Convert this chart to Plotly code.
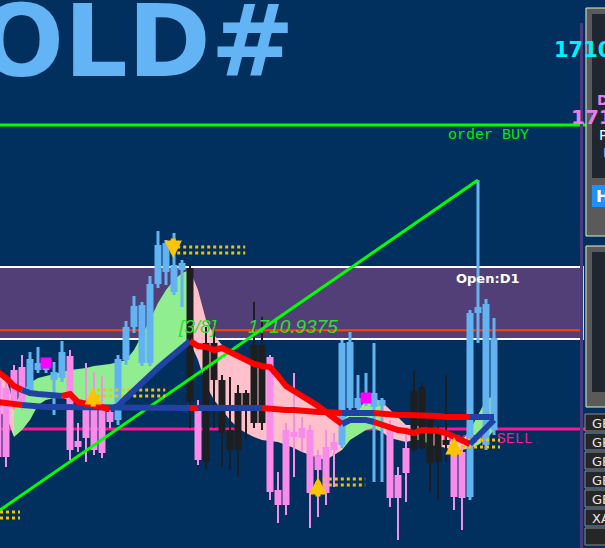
import plotly.graph_objects as go

W, H = 605, 548

# one bar per period, bar -1 is the partly visible one on the left edge
bars = list(range(-1, 62))

# candle colour class: b = blue (up), p = pink (down), k = black
kind = list("pppp" "bbbbb" "pppppp" "bbbbbbbbb" "k" "p" "kkkkkkkk"
            "ppppppppp" "bbbbbb" "ppp" "kkkkk" "pp" "bbbb")

opens = [1708.45, 1708.05, 1708.95, 1709.10, 1707.95, 1708.95, 1708.95, 1708.45, 1708.55, 1709.65,
         1705.40, 1707.30, 1707.30, 1707.10, 1706.85, 1706.45, 1709.45, 1711.10, 1709.30, 1709.30,
         1713.25, 1713.85, 1712.85, 1713.95, 1714.05, 1706.95, 1710.30, 1710.30, 1708.45, 1705.95,
         1707.80, 1707.80, 1710.20, 1710.20, 1709.60, 1702.95, 1705.95, 1705.85, 1706.05, 1705.95,
         1704.70, 1705.10, 1705.35, 1705.20, 1707.05, 1707.05, 1707.30, 1707.10, 1707.15, 1706.20,
         1703.70, 1705.05, 1707.90, 1708.10, 1706.45, 1705.95, 1705.45, 1704.85, 1704.85, 1702.60,
         1711.80, 1705.20, 1705.95]
closes = [1704.60, 1704.60, 1707.30, 1707.30, 1709.50, 1709.30, 1709.20, 1708.85, 1709.85, 1704.95,
          1705.10, 1705.55, 1704.95, 1704.80, 1706.35, 1709.50, 1711.10, 1712.15, 1712.20, 1713.25,
          1715.20, 1715.30, 1714.20, 1714.30, 1707.35, 1704.45, 1704.35, 1708.45, 1705.80, 1704.95,
          1704.95, 1707.05, 1706.30, 1706.30, 1702.85, 1702.20, 1702.20, 1705.60, 1705.55, 1702.80,
          1703.95, 1702.80, 1704.95, 1710.30, 1710.35, 1707.55, 1707.55, 1707.80, 1707.45, 1702.55,
          1702.55, 1703.80, 1704.95, 1705.05, 1704.30, 1704.35, 1705.20, 1702.60, 1702.55, 1711.80,
          1712.10, 1712.25, 1710.55]
highs = [1708.70, 1708.45, 1709.20, 1709.70, 1709.85, 1710.10, 1709.45, 1709.35, 1710.40, 1709.95,
         1706.30, 1709.30, 1708.85, 1708.65, 1707.20, 1709.70, 1711.40, 1712.65, 1712.35, 1713.65,
         1715.90, 1715.45, 1715.80, 1714.45, 1714.15, 1707.45, 1711.10, 1711.20, 1708.70, 1708.60,
         1708.20, 1707.95, 1712.35, 1711.60, 1709.70, 1703.85, 1706.30, 1708.80, 1706.60, 1706.20,
         1704.95, 1705.95, 1705.80, 1710.45, 1710.85, 1708.70, 1708.80, 1710.30, 1707.55, 1706.45,
         1704.10, 1705.80, 1708.95, 1708.30, 1706.70, 1706.20, 1708.70, 1705.45, 1705.20, 1711.95,
         1718.45, 1712.50, 1711.55]
lows = [1704.20, 1704.10, 1706.95, 1706.95, 1707.70, 1708.80, 1708.80, 1706.70, 1708.35, 1704.45,
        1704.85, 1704.35, 1704.70, 1704.55, 1706.05, 1706.20, 1709.20, 1710.80, 1709.15, 1709.15,
        1713.05, 1713.20, 1712.70, 1712.10, 1706.05, 1704.20, 1703.95, 1706.05, 1704.10, 1703.95,
        1703.60, 1705.45, 1706.05, 1705.95, 1702.45, 1701.30, 1701.70, 1703.60, 1704.85, 1701.05,
        1701.60, 1702.20, 1703.10, 1705.05, 1706.85, 1706.95, 1707.15, 1703.35, 1703.35, 1702.10,
        1700.45, 1702.35, 1704.85, 1704.95, 1702.85, 1702.45, 1704.35, 1701.95, 1700.95, 1702.45,
        1710.30, 1704.95, 1705.70]

# fast and slow trend lines, colour per bar (r = falling, b = rising)
fast_ma = [1708.85, 1708.55, 1708.15, 1707.95, 1707.80, 1707.75, 1707.70, 1707.65, 1707.65, 1707.75,
           1707.35, 1707.25, 1707.20, 1707.10, 1707.00, 1707.15, 1707.55, 1707.95, 1708.30, 1708.70,
           1709.05, 1709.40, 1709.75, 1710.10, 1710.40, 1710.15, 1710.10, 1709.95, 1710.05, 1709.85,
           1709.65, 1709.45, 1709.25, 1709.15, 1709.10, 1708.65, 1708.15, 1707.90, 1707.65, 1707.45,
           1707.15, 1706.85, 1706.55, 1706.25, 1706.45, 1706.45, 1706.45, 1706.35, 1706.20, 1706.05,
           1705.95, 1705.90, 1705.80, 1705.95, 1705.95, 1705.90, 1705.80, 1705.60, 1705.40, 1705.25,
           1705.65, 1706.05, 1706.45]
fast_col = list("rrrr" "bbbbb" "rrrrrr" "bbbbbbbbbb" "rrrrrrrrrrrrrrrrrrr" "bbbb" "rrrrrrrrrrrr" "bbb")
slow_ma = [1707.35, 1707.30, 1707.25, 1707.20, 1707.15, 1707.10, 1707.10, 1707.10, 1707.10, 1707.10,
           1707.10, 1707.10, 1707.10, 1707.10, 1707.10, 1707.10, 1707.05, 1707.05, 1707.05, 1707.05,
           1707.05, 1707.05, 1707.05, 1707.05, 1707.05, 1707.05, 1707.05, 1707.05, 1707.05, 1707.05,
           1707.05, 1707.05, 1707.05, 1707.05, 1707.00, 1707.00, 1706.95, 1706.95, 1706.90, 1706.90,
           1706.85, 1706.85, 1706.80, 1706.80, 1706.80, 1706.80, 1706.80, 1706.80, 1706.75, 1706.75,
           1706.70, 1706.70, 1706.70, 1706.65, 1706.65, 1706.65, 1706.60, 1706.60, 1706.60, 1706.60,
           1706.60, 1706.60, 1706.60]
slow_col = list("rrrr" + "b" * 21 + "r" + "b" * 8 + "r" * 10 + "bbbb" + "r" * 12 + "bbb")

# cloud band, g = green, p = pink
cloud_top = [1708.85, 1708.55, 1707.20, 1707.85, 1708.30, 1708.55, 1708.65, 1708.75, 1708.85, 1708.95,
             1709.00, 1709.05, 1709.15, 1709.20, 1709.25, 1709.35, 1709.45, 1709.95, 1710.70, 1711.45,
             1712.30, 1712.95, 1713.45, 1713.80, 1713.95, 1712.95, 1711.45, 1710.70, 1710.20, 1709.95,
             1709.70, 1709.45, 1709.25, 1709.15, 1709.10, 1708.65, 1708.15, 1707.90, 1707.65, 1707.45,
             1707.15, 1706.95, 1706.75, 1706.55, 1706.70, 1706.95, 1707.45, 1707.55, 1707.35, 1706.95,
             1706.55, 1706.20, 1706.20, 1706.10, 1706.05, 1705.95, 1705.85, 1705.65, 1705.45, 1705.95,
             1706.70, 1707.45, 1707.70]
cloud_bot = [1706.85, 1706.65, 1705.60, 1705.95, 1706.45, 1707.20, 1707.45, 1707.55, 1707.55, 1707.45,
             1707.25, 1707.15, 1707.10, 1707.05, 1707.00, 1707.10, 1707.50, 1707.90, 1708.25, 1708.65,
             1709.00, 1709.35, 1709.70, 1710.05, 1710.35, 1709.45, 1708.20, 1707.45, 1706.95, 1706.45,
             1706.05, 1705.80, 1705.60, 1705.45, 1705.40, 1705.35, 1705.20, 1705.05, 1704.85, 1704.70,
             1704.55, 1704.45, 1704.70, 1704.95, 1705.45, 1705.70, 1705.95, 1706.05, 1705.85, 1705.55,
             1705.45, 1705.35, 1705.45, 1705.45, 1705.20, 1705.15, 1705.05, 1704.95, 1704.95, 1705.05,
             1705.20, 1705.45, 1705.95]
cloud_col = list("pp" + "g" * 22 + "p" * 19 + "g" * 5 + "pppp" + "gg" + "ppppp" + "gggg")

# levels
buy_level = 1721.20
sell_level = 1706.00
pivot_level = 1710.9375
d1_box = (1710.50, 1714.10)
trend_x = [-0.75, 59]
trend_y = [1701.95, 1718.45]

# signals: x, price of arrow tip, direction
signals = [(20.9, 1714.55, "down"), (10.9, 1708.10, "up"), (39.0, 1703.60, "up"), (56.0, 1705.60, "up")]
# signal tails: x start, x end, two prices
tails = [(21.4, 29.9, 1715.10, 1714.80), (11.4, 19.9, 1707.95, 1707.65), (39.6, 44.9, 1703.50, 1703.20),
         (57.0, 61.75, 1705.45, 1705.10), (-0.75, 1.75, 1701.85, 1701.55)]
box_x = [5, 45]
box_y = [1709.30, 1707.55]

symbols = ["GBPAUD", "GBPCAD", "GBPCHF", "GBPJPY", "GBPNZD", "XAUUSD", ""]

NAVY = "#02305e"
BLUE_C, PINK_C, BLACK_C = "#62b3f2", "#f98ceb", "#1e1e1e"
GREEN_CLOUD, PINK_CLOUD = "#90ee90", "#ffc0cb"


def px(x):
    return x / W


def py(y):
    return 1 - y / H


fig = go.Figure()

# cloud, one filled polygon per colour run
i = 0
n = len(bars)
while i < n:
    j = i
    while j + 1 < n and cloud_col[j + 1] == cloud_col[i]:
        j += 1
    end = min(j + 1, n - 1)
    xs = bars[i:end + 1]
    fig.add_trace(go.Scatter(
        x=xs + xs[::-1],
        y=cloud_top[i:end + 1] + cloud_bot[i:end + 1][::-1],
        fill="toself", mode="lines", line=dict(width=0),
        fillcolor=GREEN_CLOUD if cloud_col[i] == "g" else PINK_CLOUD,
    ))
    i = j + 1

# sell label sits under the candles
fig.add_trace(go.Scatter(
    x=[54.6], y=[sell_level - 0.5], mode="text", text=["order SELL"],
    textposition="middle right",
    textfont=dict(family="Liberation Mono", size=15, color="#ff1493"),
))

# candles drawn as wick + body lines so they stay above the cloud
for k, col in (("p", PINK_C), ("b", BLUE_C), ("k", BLACK_C)):
    wx, wy, bx, by = [], [], [], []
    for b, kk, o, h, l, c in zip(bars, kind, opens, highs, lows, closes):
        if kk != k:
            continue
        wx += [b, b, None]
        wy += [l, h, None]
        bx += [b, b, None]
        by += [o, c, None]
    fig.add_trace(go.Scatter(x=wx, y=wy, mode="lines",
                             line=dict(color=col, width=3 if k == "b" else 2)))
    fig.add_trace(go.Scatter(x=bx, y=by, mode="lines", line=dict(color=col, width=7)))

# trend line
fig.add_trace(go.Scatter(x=trend_x, y=trend_y, mode="lines", line=dict(color="#00ff00", width=3)))

# signal tails
for x0, x1, y0, y1 in tails:
    for yy in (y0, y1):
        fig.add_trace(go.Scatter(x=[x0, x1], y=[yy, yy], mode="lines",
                                 line=dict(color="#f0c400", width=3, dash="dot")))


def colored_line(vals, cols, width):
    start = 1
    while start < n:
        end = start
        while end + 1 < n and cols[end + 1] == cols[start]:
            end += 1
        fig.add_trace(go.Scatter(
            x=bars[start - 1:end + 1], y=vals[start - 1:end + 1], mode="lines",
            line=dict(color="#ff0000" if cols[start] == "r" else "#2043a3", width=width),
        ))
        start = end + 1


colored_line(slow_ma, slow_col, 6)
colored_line(fast_ma, fast_col, 6)

fig.add_trace(go.Scatter(x=box_x, y=box_y, mode="markers",
                         marker=dict(symbol="square", size=11, color="#ff00ff")))

shapes = [
    dict(type="rect", xref="x", yref="y", x0=-1, x1=72.1, y0=d1_box[0], y1=d1_box[1],
         fillcolor="#533f77", line=dict(color="white", width=2), layer="below"),
    dict(type="line", xref="x", yref="y", x0=-1, x1=72.1, y0=pivot_level, y1=pivot_level,
         line=dict(color="#ff4500", width=2), layer="below"),
    dict(type="line", xref="x", yref="y", x0=-1, x1=72.6, y0=buy_level, y1=buy_level,
         line=dict(color="#00ff00", width=3), layer="below"),
    dict(type="line", xref="x", yref="y", x0=-1, x1=75, y0=sell_level, y1=sell_level,
         line=dict(color="#ff1493", width=3), layer="below"),
    # right hand side panels
    dict(type="rect", xref="paper", yref="paper", x0=px(580), x1=px(583), y0=py(548), y1=py(23),
         fillcolor="#4a3c7c", line=dict(width=0)),
    dict(type="rect", xref="paper", yref="paper", x0=px(586), x1=px(612), y0=py(236), y1=py(8),
         fillcolor="#5a5a5a", line=dict(color="#dff2cf", width=1)),
    dict(type="rect", xref="paper", yref="paper", x0=px(592), x1=px(612), y0=py(178), y1=py(14),
         fillcolor="#1f2630", line=dict(width=0)),
    dict(type="rect", xref="paper", yref="paper", x0=px(592), x1=px(612), y0=py(207), y1=py(185),
         fillcolor="#1e90ff", line=dict(width=0)),
    dict(type="rect", xref="paper", yref="paper", x0=px(586), x1=px(612), y0=py(407), y1=py(246),
         fillcolor="#5a5a5a", line=dict(color="#dff2cf", width=1)),
    dict(type="rect", xref="paper", yref="paper", x0=px(592), x1=px(612), y0=py(392), y1=py(252),
         fillcolor="#1f2630", line=dict(width=0)),
]
for r in range(len(symbols)):
    top = 414 + r * 19
    shapes.append(dict(type="rect", xref="paper", yref="paper", x0=px(585), x1=px(612),
                       y0=py(top + 17), y1=py(top), fillcolor="#262626",
                       line=dict(color="#8a8a8a", width=1)))

ann = [
    dict(text="<b>GOLD#</b>", x=px(297), y=py(42), xanchor="right", yanchor="middle",
         font=dict(family="DejaVu Sans", size=100, color="#62b4f4")),
    dict(text="order BUY", x=px(446), y=py(135), xanchor="left", yanchor="middle",
         font=dict(family="Liberation Mono", size=15, color="#00ee00")),
    dict(text="<b>Open:D1</b>", x=px(454), y=py(278), xanchor="left", yanchor="middle",
         font=dict(family="DejaVu Sans", size=13, color="white")),
    dict(text="<i>[3/8]</i>", x=px(176), y=py(326), xanchor="left", yanchor="middle",
         font=dict(family="Liberation Sans", size=19, color="#2ee02e")),
    dict(text="<i>1710.9375</i>", x=px(246), y=py(326), xanchor="left", yanchor="middle",
         font=dict(family="Liberation Sans", size=19, color="#2ee02e")),
    dict(text="<b>1710.97</b>", x=px(552), y=py(50), xanchor="left", yanchor="middle",
         font=dict(family="DejaVu Sans", size=21, color="#00f0ff")),
    dict(text="<b>D</b>", x=px(595), y=py(100), xanchor="left", yanchor="middle",
         font=dict(family="DejaVu Sans", size=14, color="#e87fe8")),
    dict(text="<b>1711.2</b>", x=px(569), y=py(117), xanchor="left", yanchor="middle",
         font=dict(family="DejaVu Sans", size=20, color="#e87fe8")),
    dict(text="P", x=px(597), y=py(135), xanchor="left", yanchor="middle",
         font=dict(family="DejaVu Sans", size=14, color="white")),
    dict(text="I", x=px(601), y=py(152), xanchor="left", yanchor="middle",
         font=dict(family="DejaVu Sans", size=13, color="#7fbfff")),
    dict(text="<b>H</b>", x=px(594), y=py(196), xanchor="left", yanchor="middle",
         font=dict(family="DejaVu Sans", size=16, color="white")),
]
for r, s in enumerate(symbols):
    ann.append(dict(text=s, x=px(590), y=py(414 + r * 19 + 9), xanchor="left", yanchor="middle",
                    font=dict(family="DejaVu Sans", size=13, color="#e8e8e8")))
for a in ann:
    a.update(xref="paper", yref="paper", showarrow=False)

for sx, sy, d in signals:
    ann.append(dict(x=sx, y=sy, xref="x", yref="y", text="", showarrow=True, ax=0,
                    ay=21 if d == "up" else -21, arrowhead=2, arrowsize=0.7, arrowwidth=5,
                    arrowcolor="#ffc400"))

fig.update_layout(
    width=W, height=H,
    margin=dict(l=0, r=0, t=0, b=0),
    paper_bgcolor=NAVY, plot_bgcolor=NAVY,
    showlegend=False, hovermode=False,
    xaxis=dict(visible=False, range=[-0.75, 74.875], fixedrange=True),
    yaxis=dict(visible=False, range=[1700.05, 1727.45], fixedrange=True),
    shapes=shapes, annotations=ann,
)

fig.write_html("out.html", config={"displayModeBar": False},
               post_script="document.body.style.margin='0';")
